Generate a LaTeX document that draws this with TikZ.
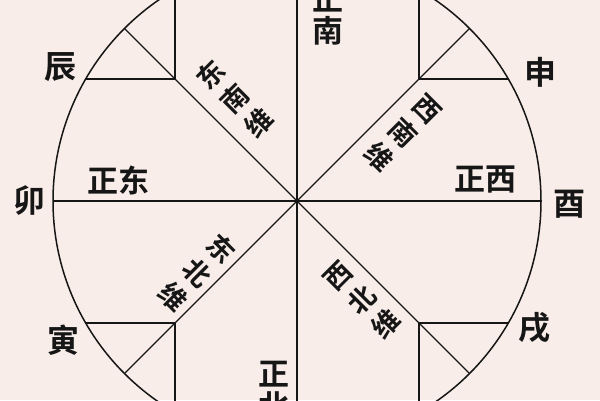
\documentclass[tikz,border=0pt]{standalone}
\usepackage{fontspec}
\newfontfamily\cjk{Noto Sans CJK SC}[BoldFont={Noto Sans CJK SC Bold}]
\usetikzlibrary{calc}
\definecolor{bgpink}{RGB}{248,237,233}
\definecolor{ink}{RGB}{22,22,22}
\begin{document}
\begin{tikzpicture}[x=1pt,y=-1pt,
  mainline/.style={draw=ink, line width=1.5pt},
  axisline/.style={draw=ink, line width=2pt},
  diagline/.style={draw=ink, line width=1.2pt},
  boxline/.style={draw=ink, line width=1.6pt},
  branch/.style={font=\cjk\bfseries\fontsize{32}{32}\selectfont, text=ink, inner sep=0pt},
  dirlabel/.style={font=\cjk\bfseries\fontsize{31}{32}\selectfont, text=ink, inner sep=0pt, align=center},
  weilabel/.style={font=\cjk\bfseries\fontsize{27}{34}\selectfont, text=ink, inner sep=0pt, align=center}
]
\useasboundingbox (0,0) rectangle (600,400);
\fill[bgpink] (0,0) rectangle (600,400);
\clip (0,0) rectangle (600,400);

\coordinate (O) at (297,201);
% circle points
\foreach \a/\n in {0/E,90/N,180/W,270/S,
                   30/p30,60/p60,45/p45,
                   120/p120,150/p150,135/p135,
                   210/p210,240/p240,225/p225,
                   300/p300,330/p330,315/p315}{
  \coordinate (\n) at ([shift={(\a:244pt)}]O);
}
% corners of the small boxes
\coordinate (cNE) at ([shift={(45:172.5pt)}]O);
\coordinate (cNW) at ([shift={(135:172.5pt)}]O);
\coordinate (cSW) at ([shift={(225:172.5pt)}]O);
\coordinate (cSE) at ([shift={(315:172.5pt)}]O);

% outer circle
\draw[mainline] (O) circle[radius=244pt];
% main axes
\draw[axisline] (W) -- (E);
\draw[mainline] (N) -- (S);
% diagonals
\draw[diagline] (p45) -- (p225);
\draw[diagline] (p135) -- (p315);
% small boxes
\draw[boxline] (p150) -- (cNW) -- (p120);
\draw[boxline] (p30) -- (cNE) -- (p60);
\draw[boxline] (p210) -- (cSW) -- (p240);
\draw[boxline] (p330) -- (cSE) -- (p300);

% earthly branches
\node[branch] (chen) at (60,67) {辰};
\node[branch] (shen) at (540,72) {申};
\node[branch] (mao)  at (29,201) {卯};
\node[branch] (you)  at (569,204) {酉};
\node[branch] (yin)  at (63,340) {寅};
\node[branch] (xu)   at (534,328) {戌};

% cardinal directions
\node[dirlabel] (zdong) at (118,180) {正东};
\node[dirlabel] (zxi)   at (485,180) {正西};
\node[dirlabel] (znan)  at (328,16)  {正\\南};
\node[dirlabel] (zbei)  at (274,391) {正\\北};

% diagonal labels
\node[weilabel, rotate=45]  (dnw) at (235,99)  {东\\南\\维};
\node[weilabel, rotate=-45] (xnw) at (403,133) {西\\南\\维};
\node[weilabel, rotate=-45] (dbw) at (197,273) {东\\北\\维};
\node[weilabel, rotate=45]  (xbw) at (362,300) {西\\北\\维};
\end{tikzpicture}
\end{document}
